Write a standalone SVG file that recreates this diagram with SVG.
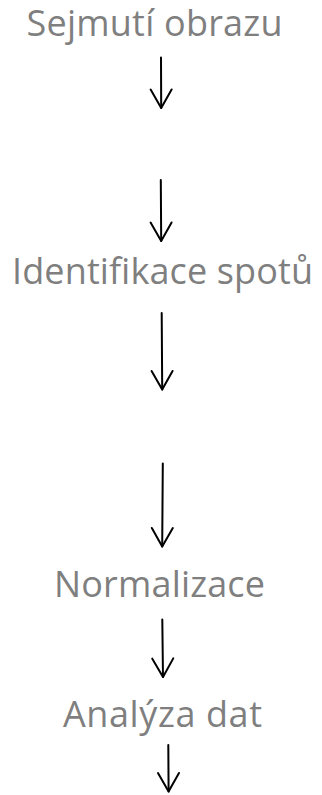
<svg xmlns="http://www.w3.org/2000/svg" width="322" height="795" viewBox="0 0 322 795">
  <style>
    .label { font-family: "Open Sans", "Noto Sans", "Liberation Sans", sans-serif; font-size: 36px; fill: #7f7f7f; }
    .flow { fill: none; stroke: #000; stroke-width: 2; stroke-linecap: round; stroke-linejoin: round; }
  </style>
  <defs>
    <marker id="vhead" markerUnits="userSpaceOnUse" viewBox="-22 -13 25 26" markerWidth="25" markerHeight="26" refX="0" refY="0" orient="auto" overflow="visible">
      <path d="M -18.5 -10.5 L 0 0 L -18.5 10.5" fill="none" stroke="#000" stroke-width="2" stroke-linecap="round" stroke-linejoin="round"/>
    </marker>
  </defs>
  <rect width="322" height="795" fill="#fff"/>

  <g id="node-sejmuti">
    <text class="label" x="26.5" y="36" textLength="256" lengthAdjust="spacing">Sejmutí obrazu</text>
  </g>
  <g id="node-identifikace">
    <text class="label" x="12" y="284" textLength="301" lengthAdjust="spacing">Identifikace spotů</text>
  </g>
  <g id="node-normalizace">
    <text class="label" x="54" y="597" textLength="211" lengthAdjust="spacing">Normalizace</text>
  </g>
  <g id="node-analyza">
    <text class="label" x="63" y="727" textLength="199" lengthAdjust="spacing">Analýza dat</text>
  </g>

  <g id="connectors">
    <path class="flow" d="M 161 57.5 L 161.2 108" marker-end="url(#vhead)"/>
    <path class="flow" d="M 160.8 180 L 161.2 241" marker-end="url(#vhead)"/>
    <path class="flow" d="M 161.7 313 L 162.2 389.5" marker-end="url(#vhead)"/>
    <path class="flow" d="M 162.8 463.5 L 162.2 546.5" marker-end="url(#vhead)"/>
    <path class="flow" d="M 162.3 619.5 L 163 677" marker-end="url(#vhead)"/>
    <path class="flow" d="M 168.3 745 L 168.6 791.5" marker-end="url(#vhead)"/>
  </g>
</svg>
